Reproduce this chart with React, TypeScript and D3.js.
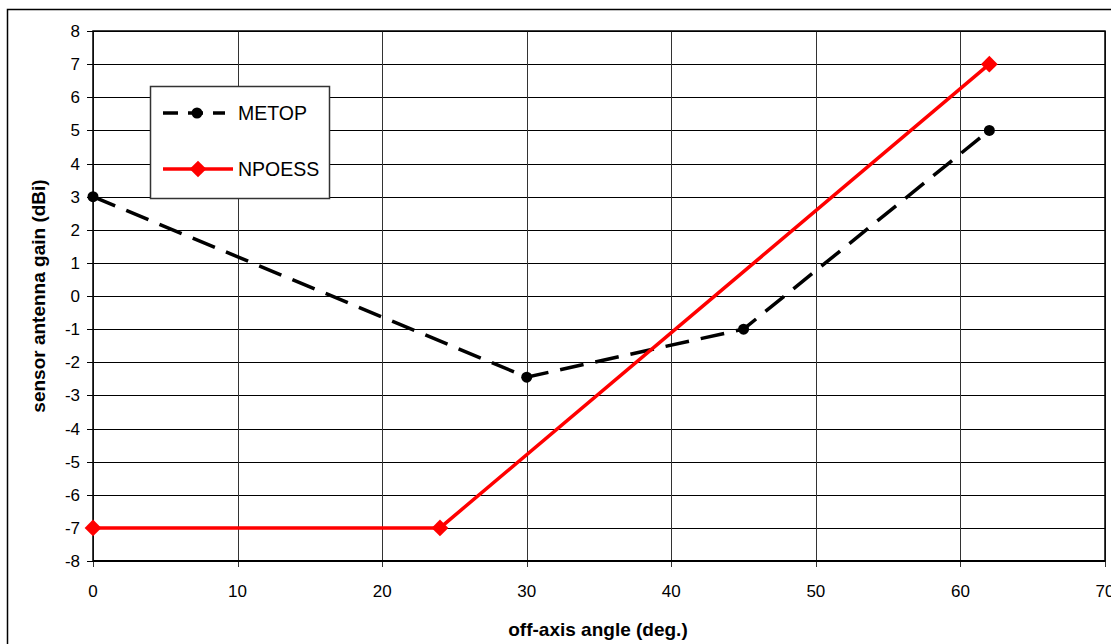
import React, { useEffect, useRef } from "react";
import * as d3 from "d3";

const metopX = [0, 30, 45, 62];
const metopY = [3, -2.45, -1, 5];
const npoessX = [0, 24, 62];
const npoessY = [-7, -7, 7];
const xTicks = [0, 10, 20, 30, 40, 50, 60, 70];
const yTicks = [8, 7, 6, 5, 4, 3, 2, 1, 0, -1, -2, -3, -4, -5, -6, -7, -8];

export default function App() {
  const ref = useRef<SVGSVGElement>(null);
  useEffect(() => {
    const svg = d3.select(ref.current);
    svg.selectAll("*").remove();
    const W = 1111, H = 644;
    const L = 93, T = 31, R = 1105, B = 561;
    const x = d3.scaleLinear().domain([0, 70]).range([L, R]);
    const y = d3.scaleLinear().domain([-8, 8]).range([B, T]);
    const font = "Arial, 'Liberation Sans', sans-serif";

    svg.append("rect").attr("x", 0).attr("y", 0).attr("width", W).attr("height", H).attr("fill", "white");
    svg.append("rect").attr("x", 7.5).attr("y", 9.5).attr("width", 1110).attr("height", 650)
      .attr("fill", "none").attr("stroke", "black").attr("stroke-width", 1.5);

    const g = svg.append("g");
    yTicks.forEach(v => {
      g.append("line").attr("x1", L - 6).attr("x2", R).attr("y1", Math.round(y(v)) + 0.5).attr("y2", Math.round(y(v)) + 0.5)
        .attr("stroke", "black").attr("stroke-width", 1);
    });
    xTicks.forEach(v => {
      g.append("line").attr("x1", Math.round(x(v)) + 0.5).attr("x2", Math.round(x(v)) + 0.5).attr("y1", T).attr("y2", B + 6)
        .attr("stroke", "#333").attr("stroke-width", 1);
    });
    g.append("rect").attr("x", L).attr("y", T).attr("width", R - L).attr("height", B - T)
      .attr("fill", "none").attr("stroke", "black").attr("stroke-width", 1.5);
    g.append("line").attr("x1", L).attr("x2", R).attr("y1", B).attr("y2", B).attr("stroke", "black").attr("stroke-width", 2);

    yTicks.forEach(v => {
      g.append("text").attr("x", 80).attr("y", y(v)).attr("dy", "0.36em").attr("text-anchor", "end")
        .attr("font-family", font).attr("font-size", 17).text(String(v));
    });
    xTicks.forEach(v => {
      g.append("text").attr("x", x(v)).attr("y", B + 36).attr("text-anchor", "middle")
        .attr("font-family", font).attr("font-size", 17).text(String(v));
    });

    svg.append("text").attr("x", 598).attr("y", 636).attr("text-anchor", "middle").attr("font-family", font)
      .attr("font-weight", "bold").attr("font-size", 19).text("off-axis angle (deg.)");
    svg.append("text").attr("transform", `translate(45,${(T + B) / 2}) rotate(-90)`).attr("text-anchor", "middle")
      .attr("font-family", font).attr("font-weight", "bold").attr("font-size", 19).text("sensor antenna gain (dBi)");

    const line = d3.line<[number, number]>().x(d => x(d[0])).y(d => y(d[1]));
    const metop: [number, number][] = metopX.map((v, i) => [v, metopY[i]]);
    const npoess: [number, number][] = npoessX.map((v, i) => [v, npoessY[i]]);

    g.append("path").attr("d", line(metop)).attr("fill", "none").attr("stroke", "black").attr("stroke-width", 3.5)
      .attr("stroke-dasharray", "24,12");
    metop.forEach(d => {
      g.append("circle").attr("cx", x(d[0])).attr("cy", y(d[1])).attr("r", 5.5).attr("fill", "black");
    });
    g.append("path").attr("d", line(npoess)).attr("fill", "none").attr("stroke", "#ff0000").attr("stroke-width", 3.5);
    const diamond = d3.symbol().type(d3.symbolSquare).size(140);
    npoess.forEach(d => {
      g.append("path").attr("d", diamond()).attr("transform", `translate(${x(d[0])},${y(d[1])}) rotate(45)`).attr("fill", "#ff0000");
    });

    const lg = svg.append("g");
    lg.append("rect").attr("x", 150.5).attr("y", 86.5).attr("width", 179).attr("height", 112)
      .attr("fill", "white").attr("stroke", "#333").attr("stroke-width", 1.5);
    lg.append("line").attr("x1", 163).attr("x2", 225).attr("y1", 113).attr("y2", 113).attr("stroke", "black").attr("stroke-width", 3.5)
      .attr("stroke-dasharray", "15,10");
    lg.append("circle").attr("cx", 197).attr("cy", 113).attr("r", 5.5).attr("fill", "black");
    lg.append("text").attr("x", 238).attr("y", 113).attr("dy", "0.36em").attr("font-family", font).attr("font-size", 19.5).text("METOP");
    lg.append("line").attr("x1", 163).attr("x2", 233).attr("y1", 169).attr("y2", 169).attr("stroke", "#ff0000").attr("stroke-width", 3.5);
    lg.append("path").attr("d", diamond()).attr("transform", `translate(198,169) rotate(45)`).attr("fill", "#ff0000");
    lg.append("text").attr("x", 238).attr("y", 169).attr("dy", "0.36em").attr("font-family", font).attr("font-size", 19.5).text("NPOESS");
  }, []);
  return <svg ref={ref} width={1111} height={644} style={{ position: "absolute", left: 0, top: 0 }} />;
}
